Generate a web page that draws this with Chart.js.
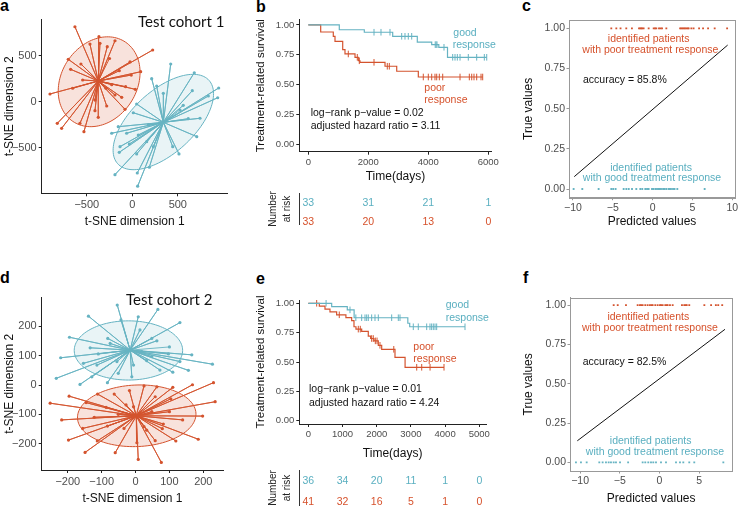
<!DOCTYPE html>
<html>
<head>
<meta charset="utf-8">
<script src="https://cdn.jsdelivr.net/npm/chart.js@4.4.0/dist/chart.umd.min.js"></script>
<style>
  body { margin: 0; background: #fff; width: 745px; height: 506px; position: relative; overflow: hidden; }
  canvas { position: absolute; }
  .lbl { position: absolute; font: bold 16px "Liberation Sans", Arial, sans-serif; line-height: 16px; color: #000; }
</style>
</head>
<body>
<div class="lbl" style="left:0px;top:-2px">a</div>
<div class="lbl" style="left:256px;top:-1px">b</div>
<div class="lbl" style="left:522px;top:-2px">c</div>
<div class="lbl" style="left:0px;top:270px">d</div>
<div class="lbl" style="left:256px;top:271px">e</div>
<div class="lbl" style="left:523px;top:270px">f</div>
<canvas id="pa"></canvas>
<canvas id="pb"></canvas>
<canvas id="pc"></canvas>
<canvas id="pd"></canvas>
<canvas id="pe"></canvas>
<canvas id="pf"></canvas>
<script>
// ---- data: panel a (t-SNE, test cohort 1)
var aRedX = [-630,-366,-190,-465,-275,224,-703,-25,-564,-677,-143,92,-11,-545,-226,-73,33,-655,-904,-190,-116,-410,-281,-80,-410,-374,-824,-575,-776,-531,-355,-289,-250];
var aRedY = [815,707,663,627,598,562,461,432,410,352,337,326,290,236,185,163,135,146,84,73,48,18,-47,-83,-98,-170,-235,-235,-289,-326,635,146,470];
var aBlueX = [422,681,213,268,949,659,341,835,938,48,560,11,615,744,-154,176,-226,66,158,708,-33,-135,231,-143,48,513,-190,55,187,59,444,-62,524];
var aBlueY = [410,315,250,171,149,120,91,62,43,-25,-39,-120,-185,-180,-272,-253,-343,-362,-435,-380,-460,-489,-489,-550,-568,-568,-793,-775,-713,-918,-489,-343,-90];
var aRedCenter = [-374, 225];
var aBlueCenter = [341, -224];
var aRedEllipse = [-364, 217, 519, 414, 56];   // cx, cy, semi-major, semi-minor, angle
var aBlueEllipse = [341, -221, 676, 341, 42];
var aTicks = [-500, 0, 500];

// ---- data: panel d (t-SNE, test cohort 2)
var dBlueX = [-54,66,-139,8,131,-195,-82,63,-221,-110,166,227,97,-154,156,110,-234,-164,-83,-11,-51,33,48,-129,72,-114,13,-75,131,-134,-43,48,-6,18,-55,100];
var dBlueY = [273,258,235,233,213,163,159,151,93,106,103,71,106,74,50,44,23,2,8,28,40,83,97,28,51,68,188,142,80,127,222,159,68,114,80,130];
var dRedX = [-252,-196,-112,-63,-18,25,63,110,168,230,235,198,139,185,119,79,58,76,8,4,-60,-149,-198,-113,-156,-218,-122,-87,-51,-34,-83,-28,48,100,82,33,104,58,-146,25,-6];
var dRedY = [-62,-38,-31,-31,-19,-3,-6,-8,1,8,-57,-106,-119,-185,-191,-149,-190,-264,-254,-197,-231,-230,-188,-191,-148,-119,-110,-76,-100,-148,-140,-68,-91,-91,-133,-154,-47,-40,-60,-142,-74];
var dBlueCenter = [-16, 119];
var dRedCenter = [2, -105];
var dBlueEllipse = [-21, 118, 160, 101, 0];
var dRedEllipse = [3.5, -105, 175, 105, 3];
var dTicks = [-200, -100, 0, 100, 200];

// ---- data: panel b (Kaplan-Meier, cohort 1)
var bGoodT = [0,1033,1867,2813,3633,4113,4350,4640];
var bGoodS = [1,0.96,0.939,0.905,0.857,0.835,0.813,0.729];
var bGoodCens = [2190,2423,2723,3113,3223,3333,3447,4230,4260,4290,4523,4813,4890,4967,5057,5333,5613,5867,5947];
var bPoorT = [0,413,833,890,1147,1223,1557,1667,1723,2557,2947,3667];
var bPoorS = [1,0.941,0.905,0.863,0.793,0.757,0.729,0.70,0.687,0.654,0.612,0.564];
var bPoorCens = [1333,1633,1700,2190,2633,2700,3833,4000,4113,4223,4280,4367,4480,5057,5367,5447,5523,5613,5757,5813];
var bRiskT = [0,2000,4000,6000];
var bRiskGood = [33,31,21,1];
var bRiskPoor = [33,20,13,0];
var bTicksX = [0,2000,4000,6000];

// ---- data: panel e (Kaplan-Meier, cohort 2)
var eGoodT = [0,684,1140,1340,2910,2965];
var eGoodS = [1,0.972,0.944,0.877,0.83,0.80];
var eGoodCens = [520,1219,1390,1561,1658,1707,1754,1853,1950,2047,2438,2632,2681,3070,3216,3462,3558,3607,3655,3705,3754,4582];
var ePoorT = [0,322,488,634,829,1100,1268,1336,1394,1561,1754,1823,1921,2047,2146,2535,2830];
var ePoorS = [1,0.976,0.951,0.927,0.902,0.878,0.853,0.80,0.78,0.76,0.72,0.70,0.68,0.642,0.608,0.54,0.455];
var ePoorCens = [245,906,1462,1520,1853,1900,1960,2010,2096,2500,3170,3316,3560,3968];
var eRiskT = [0,1000,2000,3000,4000,5000];
var eRiskGood = [36,34,20,11,1,0];
var eRiskPoor = [41,32,16,5,1,0];
var eTicksX = [0,1000,2000,3000,4000,5000];
var survTicks = [0,0.25,0.5,0.75,1];

// ---- data: panel c / f (predicted vs true)
var cPoorX = [-5.19,-4.56,-4.03,-3.31,-2.6,-1.71,-1.55,-1.42,-1.3,-1.13,-0.5,0.13,0.3,0.46,0.8,1.0,1.18,1.72,3.45,3.61,3.75,3.9,4.06,4.23,4.4,4.52,4.86,5.14,5.83,6.33,6.96,7.79,9.35];
var cGoodX = [-9.92,-8.83,-6.78,-5.19,-4.95,-4.65,-3.64,-3.3,-3.0,-2.59,-2.05,-1.55,-1.3,-0.92,-0.7,-0.5,-0.08,0.1,0.35,0.55,0.75,0.88,1.05,1.31,1.5,1.72,2.0,2.14,2.3,2.56,2.75,3.1,6.53];
var cLineX = [-9.84, 9.42];
var cLineY = [0.077, 0.896];
var cTicksX = [-10,-5,0,5,10];
var fPoorX = [-5.77,-5.26,-4.22,-2.75,-2.46,-2.3,-2.12,-1.79,-1.49,-1.2,-1.0,-0.86,-0.53,-0.23,0.06,0.2,0.4,0.73,0.9,1.03,1.32,1.66,2.83,3.12,3.3,3.43,3.75,5.65,6.5,7.1,7.4,7.9];
var fGoodX = [-10.52,-9.89,-9.17,-7.58,-7.16,-6.74,-6.4,-6.11,-5.77,-5.48,-4.97,-3.95,-2.12,-1.79,-1.41,-1.07,-0.78,-0.44,0.19,0.82,2.08,2.58,3.0,3.75,4.38,8.04];
var fLineX = [-10.35, 8.25];
var fLineY = [0.137, 0.846];
var fTicksX = [-10,-5,0,5];
var trueTicks = [0,0.25,0.5,0.75,1];

// ---- styles
var FONT = '"Liberation Sans", Arial, sans-serif';
var RED = '#d4532e', BLUE = '#66b3c2';
var RED_T = '#d6512b', BLUE_T = '#5aafc0';

function minus(v) { return v < 0 ? '\u2212' + Math.abs(v) : String(v); }
function pts(xs, ys) { return xs.map(function (x, i) { return { x: x, y: ys[i] }; }); }
function row(xs, y) { return xs.map(function (x) { return { x: x, y: y }; }); }
function spokes(c, xs, ys) {
  var out = [];
  xs.forEach(function (x, i) { out.push({ x: c[0], y: c[1] }, { x: x, y: ys[i] }); });
  return out;
}
function survAt(ts, ss, t) {
  var s = ss[0];
  for (var i = 0; i < ts.length; i++) if (ts[i] <= t) s = ss[i];
  return s;
}
function kmLine(ts, ss, cens) {
  var d = pts(ts, ss);
  var end = Math.max.apply(null, cens);
  if (end > ts[ts.length - 1]) d.push({ x: end, y: ss[ss.length - 1] });
  return d;
}
function censPts(ts, ss, cens) {
  return cens.map(function (t) { return { x: t, y: survAt(ts, ss, t) }; });
}

function axis(o) {
  return {
    type: 'linear', min: o.min, max: o.max,
    afterBuildTicks: function (s) { s.ticks = o.ticks.map(function (v) { return { value: v }; }); },
    afterFit: function (s) { if (o.w != null) s.width = o.w; if (o.h != null) s.height = o.h; },
    ticks: { z: 1, font: { size: o.fs, family: FONT }, color: o.tc || '#4d4d4d', padding: o.pad, callback: o.fmt, maxRotation: 0, autoSkip: false },
    grid: { display: true, drawOnChartArea: false, drawTicks: true, tickLength: o.tl, color: o.lc, tickColor: o.lc },
    border: { display: true, color: o.lc, width: 1 },
    title: { display: true, text: o.title, color: '#111', font: { size: o.tfs, family: FONT }, padding: { top: o.tp, bottom: o.tp } }
  };
}

function notes(items) {
  return {
    id: 'notes',
    afterDatasetsDraw: function (chart) {
      var ctx = chart.ctx, x = chart.scales.x, y = chart.scales.y;
      ctx.save();
      ctx.textBaseline = 'middle';
      items.forEach(function (n) {
        ctx.font = n.font; ctx.fillStyle = n.color; ctx.textAlign = n.align || 'left';
        ctx.fillText(n.text, x.getPixelForValue(n.x), y.getPixelForValue(n.y));
      });
      ctx.restore();
    }
  };
}

function ellipses(list) {
  return {
    id: 'ellipses',
    beforeDatasetsDraw: function (chart) {
      var ctx = chart.ctx, x = chart.scales.x, y = chart.scales.y;
      ctx.save();
      list.forEach(function (e) {
        var p = e.p, th = p[4] * Math.PI / 180;
        ctx.beginPath();
        for (var k = 0; k <= 120; k++) {
          var t = k / 120 * 2 * Math.PI;
          var ex = p[2] * Math.cos(t), ey = p[3] * Math.sin(t);
          var dx = p[0] + ex * Math.cos(th) - ey * Math.sin(th);
          var dy = p[1] + ex * Math.sin(th) + ey * Math.cos(th);
          var px = x.getPixelForValue(dx), py = y.getPixelForValue(dy);
          if (k === 0) ctx.moveTo(px, py); else ctx.lineTo(px, py);
        }
        ctx.closePath();
        ctx.fillStyle = e.fill; ctx.fill();
        ctx.strokeStyle = e.stroke; ctx.lineWidth = 1; ctx.stroke();
      });
      ctx.restore();
    }
  };
}

function frame(color) {
  return {
    id: 'frame',
    afterDraw: function (chart) {
      var a = chart.chartArea, ctx = chart.ctx;
      ctx.save();
      ctx.strokeStyle = color; ctx.lineWidth = 1;
      ctx.strokeRect(Math.round(a.left) + 0.5, Math.round(a.top) + 0.5, Math.round(a.right - a.left), Math.round(a.bottom - a.top));
      ctx.restore();
    }
  };
}

function riskTable(rt, good, poor, rows, bar) {
  return {
    id: 'risk',
    afterDraw: function (chart) {
      var ctx = chart.ctx, x = chart.scales.x, ca = chart.chartArea;
      ctx.save();
      ctx.font = '10.5px ' + FONT; ctx.textAlign = 'center'; ctx.textBaseline = 'middle';
      rt.forEach(function (t, i) {
        var px = x.getPixelForValue(t);
        ctx.fillStyle = BLUE_T; ctx.fillText(String(good[i]), px, ca.bottom + rows[0]);
        ctx.fillStyle = RED_T; ctx.fillText(String(poor[i]), px, ca.bottom + rows[1]);
      });
      ctx.strokeStyle = '#333'; ctx.lineWidth = 1;
      ctx.beginPath();
      ctx.moveTo(Math.round(ca.left) + 0.5, ca.bottom + bar[0]);
      ctx.lineTo(Math.round(ca.left) + 0.5, ca.bottom + bar[1]);
      ctx.stroke();
      ctx.fillStyle = '#222';
      ctx.font = '10px ' + FONT;
      var cy = ca.bottom + (bar[0] + bar[1]) / 2;
      [['Number', ca.left - 26], ['at risk', ca.left - 12.5]].forEach(function (l) {
        ctx.save(); ctx.translate(l[1], cy); ctx.rotate(-Math.PI / 2); ctx.fillText(l[0], 0, 0); ctx.restore();
      });
      ctx.restore();
    }
  };
}

function panel(id, box, area, xo, yo, datasets, plugins) {
  var c = document.getElementById(id);
  c.width = box.w; c.height = box.h;
  c.style.left = box.left + 'px'; c.style.top = box.top + 'px';
  c.style.width = box.w + 'px'; c.style.height = box.h + 'px';
  xo.h = box.top + box.h - area.b;
  yo.w = area.l - box.left;
  return new Chart(c, {
    type: 'scatter',
    data: { datasets: datasets },
    options: {
      responsive: false, animation: false, events: [],
      layout: { padding: { left: 0, top: area.t - box.top, right: box.left + box.w - area.r, bottom: 0 } },
      plugins: { legend: { display: false }, tooltip: { enabled: false } },
      scales: { x: axis(xo), y: axis(yo) }
    },
    plugins: plugins
  });
}

function tsneSets(redX, redY, redC, blueX, blueY, blueC) {
  return [
    { data: pts(redX, redY), backgroundColor: RED, borderWidth: 0, pointRadius: 1.6, order: 0 },
    { data: pts(blueX, blueY), backgroundColor: BLUE, borderWidth: 0, pointRadius: 1.6, order: 0 },
    { data: spokes(redC, redX, redY), showLine: true, borderColor: RED, borderWidth: 0.9, pointRadius: 0, order: 1 },
    { data: spokes(blueC, blueX, blueY), showLine: true, borderColor: BLUE, borderWidth: 0.9, pointRadius: 0, order: 1 }
  ];
}

function kmSets(gT, gS, gC, pT, pS, pC) {
  return [
    { data: kmLine(gT, gS, gC), showLine: true, stepped: 'before', borderColor: BLUE, borderWidth: 1.2, pointRadius: 0 },
    { data: kmLine(pT, pS, pC), showLine: true, stepped: 'before', borderColor: RED, borderWidth: 1.2, pointRadius: 0 },
    { data: censPts(gT, gS, gC), pointStyle: 'line', rotation: 90, pointRadius: 3.3, borderColor: BLUE, borderWidth: 1 },
    { data: censPts(pT, pS, pC), pointStyle: 'line', rotation: 90, pointRadius: 3.3, borderColor: RED, borderWidth: 1 }
  ];
}

function predSets(poorX, goodX, lx, ly) {
  return [
    { data: row(poorX, 1), pointStyle: 'rect', backgroundColor: RED, borderWidth: 0, pointRadius: 1.3 },
    { data: row(goodX, 0), pointStyle: 'rect', backgroundColor: BLUE, borderWidth: 0, pointRadius: 1.3 },
    { data: pts(lx, ly), showLine: true, borderColor: '#111', borderWidth: 1, pointRadius: 0 }
  ];
}

var f2 = function (v) { return v.toFixed(2); };
var tsneAxis = { fs: 11, pad: 2, tl: 3, lc: '#222', tfs: 12 };
function ext(base, more) { var o = {}; for (var k in base) o[k] = base[k]; for (var m in more) o[m] = more[m]; return o; }

// panel a
panel('pa', { left: 0, top: 0, w: 240, h: 250 }, { l: 41.7, t: 19.3, r: 227.7, b: 193.3 },
  ext(tsneAxis, { min: -995, max: 1048, ticks: aTicks, fmt: minus, title: 't-SNE dimension 1', tp: 21 }),
  ext(tsneAxis, { min: -996, max: 896, ticks: aTicks, fmt: minus, title: 't-SNE dimension 2', tp: 2.8 }),
  tsneSets(aRedX, aRedY, aRedCenter, aBlueX, aBlueY, aBlueCenter),
  [ellipses([{ p: aRedEllipse, fill: 'rgba(212,83,46,0.17)', stroke: RED }, { p: aBlueEllipse, fill: 'rgba(102,179,194,0.14)', stroke: BLUE }]),
   notes([{ text: 'Test cohort 1', x: 63, y: 870, font: '15px Lato', color: '#111' }])]);

// panel d
panel('pd', { left: 0, top: 250, w: 240, h: 256 }, { l: 41.7, t: 297.7, r: 223.3, b: 470 },
  ext(tsneAxis, { min: -277, max: 259, ticks: dTicks, fmt: minus, title: 't-SNE dimension 1', tp: 0.5 }),
  ext(tsneAxis, { min: -290, max: 298, ticks: dTicks, fmt: minus, title: 't-SNE dimension 2', tp: 2.8 }),
  tsneSets(dRedX, dRedY, dRedCenter, dBlueX, dBlueY, dBlueCenter),
  [ellipses([{ p: dBlueEllipse, fill: 'rgba(102,179,194,0.14)', stroke: BLUE }, { p: dRedEllipse, fill: 'rgba(212,83,46,0.17)', stroke: RED }]),
   notes([{ text: 'Test cohort 2', x: -28, y: 290, font: '15px Lato', color: '#111' }])]);

// panel b
var kmAxis = { fs: 9.5, pad: 2, tl: 3, lc: '#222' };
var noteF = '10.5px ' + FONT;
panel('pb', { left: 240, top: 0, w: 265, h: 250 }, { l: 299.3, t: 19.6, r: 491.7, b: 151.7 },
  ext(kmAxis, { min: -300, max: 6113, ticks: bTicksX, fmt: String, title: 'Time(days)', tfs: 12, tp: 66 }),
  ext(kmAxis, { min: -0.062, max: 1.045, ticks: survTicks, fmt: f2, title: 'Treatment-related survival', tfs: 11.5, tp: 13.6 }),
  kmSets(bGoodT, bGoodS, bGoodCens, bPoorT, bPoorS, bPoorCens),
  [notes([
    { text: 'good', x: 4833, y: 0.935, font: noteF, color: BLUE_T },
    { text: 'response', x: 4813, y: 0.832, font: noteF, color: BLUE_T },
    { text: 'poor', x: 3867, y: 0.474, font: noteF, color: RED_T },
    { text: 'response', x: 3867, y: 0.371, font: noteF, color: RED_T },
    { text: 'log\u2212rank p\u2212value = 0.02', x: 80, y: 0.265, font: noteF, color: '#111' },
    { text: 'adjusted hazard ratio = 3.11', x: 80, y: 0.153, font: noteF, color: '#111' }
  ]), riskTable(bRiskT, bRiskGood, bRiskPoor, [51, 70], [41.3, 73.3])]);

// panel e
panel('pe', { left: 240, top: 250, w: 265, h: 256 }, { l: 299.3, t: 300, r: 486, b: 424 },
  ext(kmAxis, { min: -263, max: 5196, ticks: eTicksX, fmt: String, title: 'Time(days)', tfs: 12, tp: 44.8 }),
  ext(kmAxis, { min: -0.028, max: 1.028, ticks: survTicks, fmt: f2, title: 'Treatment-related survival', tfs: 11.5, tp: 13.6 }),
  kmSets(eGoodT, eGoodS, eGoodCens, ePoorT, ePoorS, ePoorCens),
  [notes([
    { text: 'good', x: 4018, y: 0.986, font: noteF, color: BLUE_T },
    { text: 'response', x: 4018, y: 0.877, font: noteF, color: BLUE_T },
    { text: 'poor', x: 3070, y: 0.625, font: noteF, color: RED_T },
    { text: 'response', x: 3070, y: 0.523, font: noteF, color: RED_T },
    { text: 'log\u2212rank p\u2212value = 0.01', x: 20, y: 0.267, font: noteF, color: '#111' },
    { text: 'adjusted hazard ratio = 4.24', x: 20, y: 0.153, font: noteF, color: '#111' }
  ]), riskTable(eRiskT, eRiskGood, eRiskPoor, [56.7, 77.7], [46, 82])]);

// panel c
var predAxis = { fs: 10.5, pad: 1.5, tl: 2.5, lc: '#999', tfs: 12 };
panel('pc', { left: 500, top: 0, w: 245, h: 250 }, { l: 569, t: 20, r: 735, b: 197.7 },
  ext(predAxis, { min: -10.5, max: 10.34, ticks: cTicksX, fmt: minus, title: 'Predicted values', tp: 21 }),
  ext(predAxis, { min: -0.054, max: 1.052, ticks: trueTicks, fmt: f2, title: 'True values', tp: 21 }),
  predSets(cPoorX, cGoodX, cLineX, cLineY),
  [frame('#999'), notes([
    { text: 'identified patients', x: -0.5, y: 0.932, font: noteF, color: RED_T, align: 'center' },
    { text: 'with poor treatment response', x: -0.29, y: 0.865, font: noteF, color: RED_T, align: 'center' },
    { text: 'accuracy = 85.8%', x: -8.74, y: 0.678, font: noteF, color: '#111' },
    { text: 'identified patients', x: -0.2, y: 0.133, font: noteF, color: BLUE_T, align: 'center' },
    { text: 'with good treatment response', x: -0.08, y: 0.067, font: noteF, color: BLUE_T, align: 'center' }
  ])]);

// panel f
panel('pf', { left: 500, top: 250, w: 245, h: 256 }, { l: 570, t: 297.7, r: 732.3, b: 471 },
  ext(predAxis, { min: -11.27, max: 9.17, ticks: fTicksX, fmt: minus, title: 'Predicted values', tp: 0.5 }),
  ext(predAxis, { min: -0.055, max: 1.047, ticks: trueTicks, fmt: f2, title: 'True values', tp: 21 }),
  predSets(fPoorX, fGoodX, fLineX, fLineY),
  [frame('#999'), notes([
    { text: 'identified patients', x: -1.41, y: 0.926, font: noteF, color: RED_T, align: 'center' },
    { text: 'with poor treatment response', x: -1.2, y: 0.856, font: noteF, color: RED_T, align: 'center' },
    { text: 'accuracy = 82.5%', x: -9.67, y: 0.64, font: noteF, color: '#111' },
    { text: 'identified patients', x: -1.11, y: 0.135, font: noteF, color: BLUE_T, align: 'center' },
    { text: 'with good treatment response', x: -0.57, y: 0.067, font: noteF, color: BLUE_T, align: 'center' }
  ])]);
</script>
</body>
</html>
